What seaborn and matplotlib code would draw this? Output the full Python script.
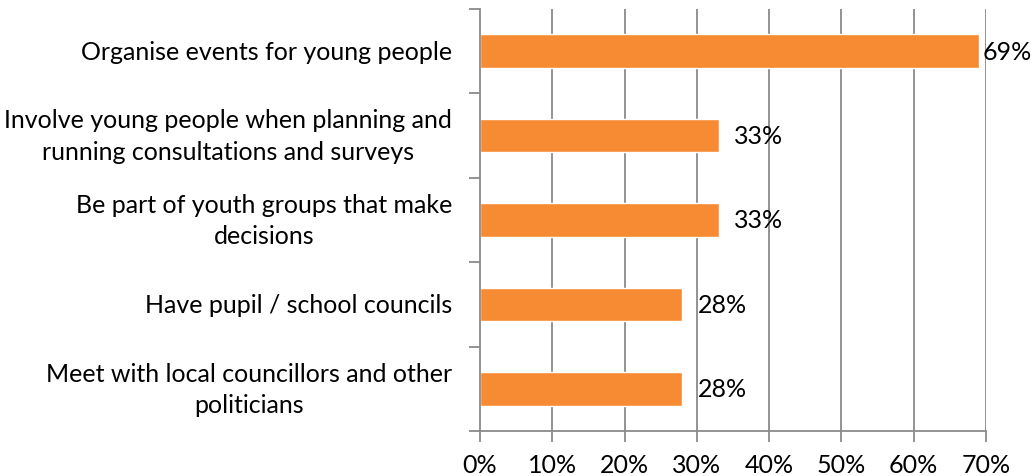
import matplotlib
matplotlib.use('Agg')
import matplotlib.pyplot as plt
import matplotlib.transforms as mtransforms
import seaborn as sns
import pandas as pd
import numpy as np
from matplotlib.ticker import FixedLocator, PercentFormatter

categories = [
    'Organise events for young people',
    'Involve young people when planning and\nrunning consultations and surveys',
    'Be part of youth groups that make\ndecisions',
    'Have pupil / school councils',
    'Meet with local councillors and other\npoliticians',
]
values = [69, 33, 33, 28, 28]
value_labels = ['69%', '33%', '33%', '28%', '28%']
x_ticks = [0, 10, 20, 30, 40, 50, 60, 70]

sns.set_theme(style='white')
plt.rcParams['font.family'] = ['Lato', 'DejaVu Sans']
plt.rcParams['text.color'] = 'black'
plt.rcParams['xtick.color'] = 'black'
plt.rcParams['ytick.color'] = 'black'

df = pd.DataFrame({'category': categories, 'value': values})

fig = plt.figure(figsize=(10.35, 4.77), dpi=100)
ax = fig.add_axes([480 / 1035, 1 - 432 / 477, 506 / 1035, 422 / 477])

grey = '#8a8a8a'
fs = 18
for x in x_ticks[1:]:
    ax.axvline(x, color=grey, linewidth=1.3, zorder=0)

sns.barplot(data=df, x='value', y='category', orient='h', color='#F78B34',
            width=0.4, saturation=1, ax=ax, zorder=2)

ax.set_xlim(0, 70)
ax.set_ylim(len(categories) - 0.5, -0.5)
ax.set_xticks(x_ticks)
ax.xaxis.set_major_formatter(PercentFormatter(decimals=0))
ax.set_yticks(range(len(categories)))
ax.set_yticklabels([])
ax.yaxis.set_minor_locator(FixedLocator(np.arange(-0.5, len(categories), 1)))
ax.tick_params(axis='y', which='major', length=0)
ax.tick_params(axis='y', which='minor', length=8, width=1.3, color=grey, left=True)
ax.tick_params(axis='x', which='major', length=8, width=1.3, color=grey,
               bottom=True, labelsize=fs, pad=8)
ax.set_xlabel('')
ax.set_ylabel('')

for side in ['top', 'right']:
    ax.spines[side].set_visible(False)
for side in ['left', 'bottom']:
    ax.spines[side].set_color(grey)
    ax.spines[side].set_linewidth(1.3)

# category labels: block right-aligned, lines centred (like Excel)
lab_tr = mtransforms.offset_copy(ax.get_yaxis_transform(), fig=fig, x=-28, units='dots')
for i, cat in enumerate(categories):
    ax.text(0, i, cat, transform=lab_tr, ha='right', va='center',
            multialignment='center', linespacing=1.45, fontsize=fs, color='black')

# value labels; pushed back inside the figure if they overflow (as Excel does)
fig.canvas.draw()
renderer = fig.canvas.get_renderer()
for i, lab in enumerate(value_labels):
    t = ax.annotate(lab, (values[i], i), xytext=(11, 0), textcoords='offset points',
                    va='center', ha='left', fontsize=fs, color='black',
                    annotation_clip=False)
    bb = t.get_window_extent(renderer)
    if bb.x1 > fig.bbox.width - 3:
        shift = (bb.x1 - fig.bbox.width + 3) * 72 / fig.dpi
        t.set_position((11 - shift, 0))

fig.savefig('out.png', dpi=100)
